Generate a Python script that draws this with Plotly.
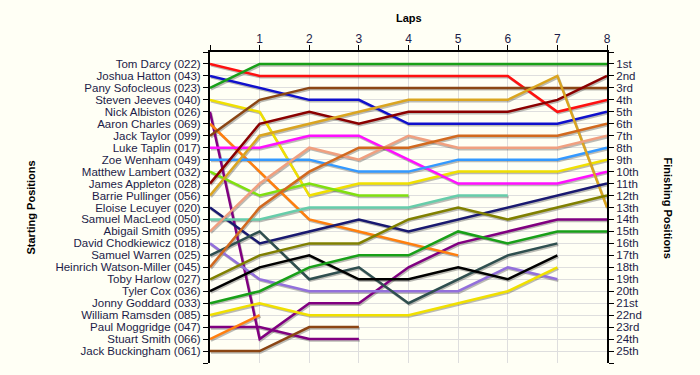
import plotly.graph_objects as go

laps = [0, 1, 2, 3, 4, 5, 6, 7, 8]

drivers = [
    "Tom Darcy (022)", "Joshua Hatton (043)", "Pany Sofocleous (023)", "Steven Jeeves (040)",
    "Nick Albiston (026)", "Aaron Charles (069)", "Jack Taylor (099)", "Luke Taplin (017)",
    "Zoe Wenham (049)", "Matthew Lambert (032)", "James Appleton (028)", "Barrie Pullinger (056)",
    "Eloise Lecuyer (020)", "Samuel MacLeod (050)", "Abigail Smith (095)", "David Chodkiewicz (018)",
    "Samuel Warren (025)", "Heinrich Watson-Miller (045)", "Toby Harlow (027)", "Tyler Cox (036)",
    "Jonny Goddard (033)", "William Ramsden (085)", "Paul Moggridge (047)", "Stuart Smith (066)",
    "Jack Buckingham (061)",
]

# position of each driver at each lap (lap 0 = starting grid); shorter lists = retired
positions = [
    [1, 2, 2, 2, 2, 2, 2, 5, 4],
    [2, 3, 4, 4, 6, 6, 6, 6, 5],
    [3, 1, 1, 1, 1, 1, 1, 1, 1],
    [4, 5, 12, 11, 11, 10, 10, 10, 9],
    [5, 24, 21, 21, 18, 16, 15, 14, 14],
    [6, 10, 14, 15, 16, 17],
    [7, 4, 3, 3, 3, 3, 3, 3, 3],
    [8, 8, 7, 7, 9, 11, 11, 11, 10],
    [9, 9, 9, 10, 10, 9, 9, 9, 8],
    [10, 12, 11, 12, 12],
    [11, 6, 5, 6, 5, 5, 5, 4, 2],
    [12, 7, 6, 5, 4, 4, 4, 2, 13],
    [13, 16, 15, 14, 15, 14, 13, 12, 11],
    [14, 14, 13, 13, 13, 12, 12],
    [15, 11, 8, 9, 7, 8, 8, 8, 7],
    [16, 19, 20, 20, 20, 20, 18, 19],
    [17, 15, 19, 18, 21, 19, 17, 16],
    [18, 13, 10, 8, 8, 7, 7, 7, 6],
    [19, 17, 16, 16, 14, 13, 14, 13, 12],
    [20, 18, 17, 19, 19, 18, 19, 17],
    [21, 20, 18, 17, 17, 15, 16, 15, 15],
    [22, 21, 22, 22, 22, 21, 20, 18],
    [23, 23, 24, 24],
    [24, 22],
    [25, 25, 23, 23],
]

colors = [
    "#ff1010", "#1010cc", "#18a018", "#f0e000", "#800080", "#ff7f0e", "#8b4513", "#ff10ff",
    "#3399ff", "#80e010", "#8b0000", "#daa520", "#191970", "#66cdaa", "#f0a080", "#9370db",
    "#2f4f4f", "#d2691e", "#808000", "#000000", "#18a018", "#f0e000", "#800080", "#ff7f0e",
    "#8b4513",
]

finish_labels = ["1st", "2nd", "3rd"] + [f"{i}th" for i in range(4, 21)] + ["21st", "22nd", "23rd", "24th", "25th"]

BG = "#fffff5"
TXT = "#1c1c48"
FONT = "Liberation Sans, Arial, sans-serif"
L, R, T, B = 210, 93, 52, 12
PW, PH = 700 - L - R, 375 - T - B

fig = go.Figure()

# shadows
for pos in positions:
    n = len(pos)
    fig.add_trace(go.Scatter(
        x=[l + 0.02 for l in laps[:n]], y=[p + 0.12 for p in pos],
        mode="lines", line=dict(color="rgba(60,60,60,0.35)", width=2.5),
        hoverinfo="skip", showlegend=False,
    ))

for name, pos, col in zip(drivers, positions, colors):
    n = len(pos)
    fig.add_trace(go.Scatter(
        x=laps[:n], y=pos, mode="lines", name=name,
        line=dict(color=col, width=2.5), showlegend=False,
    ))

# invisible trace to anchor the right-hand axis
fig.add_trace(go.Scatter(x=[8], y=[1], yaxis="y2", mode="markers",
                         marker=dict(opacity=0), hoverinfo="skip", showlegend=False))

yvals = list(range(0, 27))
fig.update_layout(
    width=700, height=375,
    margin=dict(l=L, r=R, t=T, b=B, autoexpand=False),
    paper_bgcolor=BG, plot_bgcolor=BG,
    font=dict(family=FONT, size=11, color=TXT),
    xaxis=dict(
        side="top", range=[0, 8], tickvals=laps, ticktext=[""] + [str(l) for l in laps[1:]],
        showline=True, linecolor="black", linewidth=2, mirror=False, automargin=False,
        ticks="outside", ticklen=5, tickcolor="black", tickwidth=1, ticklabelstandoff=-3,
        showgrid=True, gridcolor="#dedede", gridwidth=1, zeroline=False,
        tickfont=dict(size=12, color=TXT),
    ),
    yaxis=dict(
        range=[26, 0], tickvals=yvals, ticktext=[""] + drivers + [""], automargin=False,
        showline=True, linecolor="black", linewidth=2,
        ticks="outside", ticklen=5, tickcolor="black", tickwidth=1,
        showgrid=True, gridcolor="#dedede", gridwidth=1, zeroline=False,
        tickfont=dict(size=11.5, color=TXT),
    ),
    yaxis2=dict(
        overlaying="y", side="right", range=[26, 0], tickvals=yvals, automargin=False,
        ticktext=[""] + finish_labels + [""],
        showline=True, linecolor="black", linewidth=2,
        ticks="outside", ticklen=5, tickcolor="black", tickwidth=1,
        showgrid=False, zeroline=False,
        tickfont=dict(size=11.5, color=TXT),
    ),
    annotations=[
        dict(text="<b>Laps</b>", xref="paper", yref="paper", x=0.5, y=1 + (T - 18) / PH,
             xanchor="center", yanchor="middle", showarrow=False, font=dict(size=11, color="black")),
        dict(text="<b>Starting Positions</b>", xref="paper", yref="paper", x=(30 - L) / PW, y=0.5,
             xanchor="center", yanchor="middle", textangle=-90, showarrow=False,
             font=dict(size=11, color="black")),
        dict(text="<b>Finishing Positions</b>", xref="paper", yref="paper", x=(668 - L) / PW, y=0.5,
             xanchor="center", yanchor="middle", textangle=90, showarrow=False,
             font=dict(size=11, color="black")),
    ],
)

fig.write_html(
    "out.html",
    config={"displayModeBar": False},
    post_script="document.body.style.margin='0px';document.body.style.backgroundColor='" + BG + "';",
)
